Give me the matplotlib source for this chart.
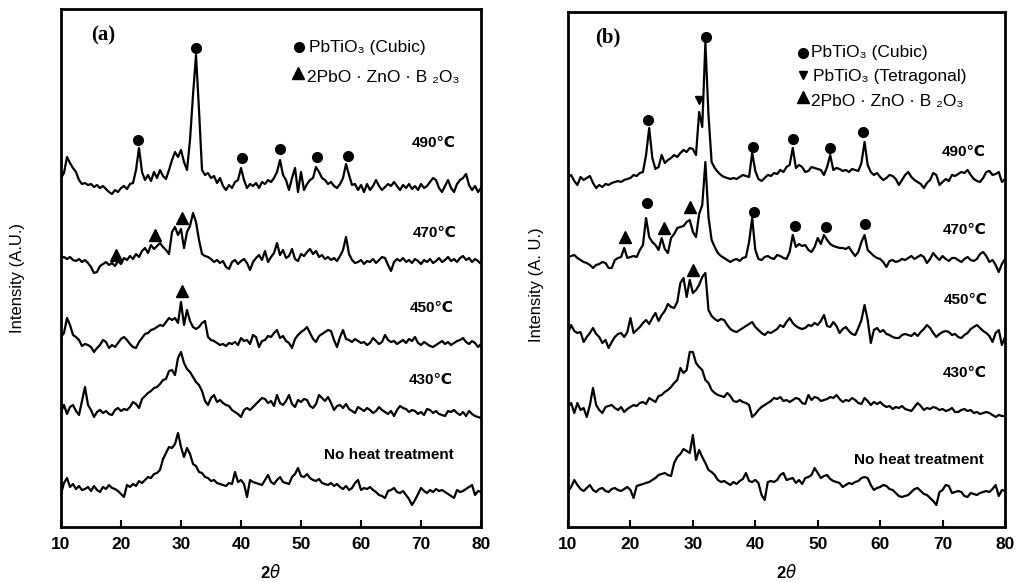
import numpy as np
import matplotlib
matplotlib.use('Agg')
import matplotlib.pyplot as plt

plt.rcParams['font.family'] = ['Liberation Sans', 'DejaVu Sans']

#==============================================================================
#%% DATA  (intensity, arbitrary units, 0.5 deg steps)
#==============================================================================
two_theta = np.arange(10, 80.01, 0.5)

labels = ['490\u2103', '470\u2103', '450\u2103', '430\u2103', 'No heat treatment']

a_490 = [9, 14, 30, 24, 19, 15, 7, 3, 4, 2,
         3, 0, 2, -1, 1, -2, -5, -7, -3, -5,
         -1, 1, -2, 3, 4, 17, 39, 15, 7, 12,
         6, 15, 9, 17, 11, 8, 17, 27, 35, 30,
         37, 25, 17, 47, 92, 132, 77, 17, 12, 14,
         9, 11, 4, 9, 1, -3, 2, -1, 5, 7,
         19, 7, -1, 3, 1, 4, -1, 5, 3, 7,
         5, 9, 15, 27, 12, 7, -3, 9, 19, -5,
         15, -3, 3, 7, 9, 20, 15, 9, 7, 3,
         5, 1, -1, 3, 9, 23, 12, 2, 3, -3,
         2, -5, 3, -3, 1, 7, 1, -3, 0, 3,
         1, 5, 1, -3, 2, -1, 3, -2, 1, -3,
         3, -1, 1, 5, 9, 7, -1, -5, 1, 7,
         -1, -5, 3, 7, 9, 13, 2, -3, 1, -5,
         -1]
a_470 = [4, 5, 3, 5, 2, 1, 3, 0, 2, -1,
         -5, -11, -10, -4, -2, 0, -3, -1, -4, 1,
         -2, 4, 2, 6, 3, 8, 5, 11, 14, 9,
         17, 13, 16, 19, 15, 12, 8, 30, 35, 27,
         33, 14, 30, 36, 49, 40, 22, 8, 6, 5,
         3, 0, 2, -1, 1, -5, -7, 0, 2, -2,
         1, 3, -1, -8, 0, 4, 7, 2, 11, 0,
         5, 9, 19, 7, 12, 4, 6, 13, 3, 1,
         8, 6, 10, 13, 8, 11, 5, 7, 3, 5,
         2, 4, 1, 6, 12, 25, 8, 2, -1, 0,
         2, -2, 1, 0, 3, -1, 2, 5, 4, -3,
         -9, 0, 3, 1, 4, 0, 2, -1, 3, 1,
         -2, 2, 0, 3, -1, 1, 4, 0, 2, 5,
         1, 3, 0, 4, 6, 2, 4, 0, 3, 1,
         -2]
a_450 = [8, 12, 27, 20, 10, 8, 5, -1, 1, 0,
         -2, -7, -3, 0, 5, 3, -3, 0, -2, 2,
         6, 8, 5, 1, -2, -3, 3, 7, 11, 12,
         15, 16, 18, 20, 19, 23, 27, 25, 27, 22,
         43, 20, 35, 24, 18, 16, 18, 22, 24, 8,
         5, 4, 2, 0, 1, -1, 2, 1, 3, 0,
         7, 4, 5, 1, 10, 8, -2, 4, 5, 9,
         8, 12, 15, 7, 9, 4, 2, -3, 6, 10,
         13, 15, 18, 12, 6, 3, 9, 11, 13, 15,
         14, 5, -2, 8, 15, 6, 5, 3, 6, 4,
         2, 3, 0, 2, 7, 4, 1, 3, 10, 5,
         3, 4, 1, 3, 5, 2, 6, 4, 8, 2,
         0, 3, 1, -1, -2, 0, 2, 4, 1, 3,
         0, 2, 4, 5, 7, 3, 1, 4, 2, -2,
         1]
a_430 = [1, 8, -1, 6, 8, 2, -2, 12, 26, 8,
         3, -4, 1, 3, 0, 2, -1, -2, 3, 5,
         2, 4, 3, 6, 11, 9, 5, 14, 17, 20,
         22, 25, 26, 29, 33, 34, 42, 43, 38, 55,
         61, 50, 44, 41, 36, 31, 28, 22, 12, 8,
         15, 18, 11, 13, 10, 8, 7, 3, 1, -1,
         -4, 3, 5, 3, 6, 9, 12, 15, 14, 10,
         12, 7, 18, 10, 8, 12, 18, 9, 6, 13,
         11, 14, 13, 7, 5, 9, 18, 15, 12, 16,
         10, 3, 7, 8, 5, 9, 4, 2, 0, 6,
         4, 2, 5, 3, 0, 2, 6, 3, 1, -1,
         2, -3, 3, 7, 5, 4, 1, 3, 2, -1,
         1, -2, 4, 3, 0, 2, -1, -2, -3, 2,
         1, 3, 0, -2, 1, -3, 2, -1, -3, -4,
         -5]
a_none = [-2, 9, 14, 5, 8, 3, 6, 2, 3, 5,
          1, 6, 2, 0, 5, 3, 7, 4, 3, 1,
          -2, -5, 7, 5, 8, 6, 11, 9, 12, 15,
          14, 18, 19, 22, 33, 39, 45, 44, 48, 59,
          45, 35, 44, 38, 28, 26, 20, 19, 15, 14,
          11, 12, 9, 8, 7, 6, 9, 8, 20, 10,
          12, 8, -5, 12, 10, 9, 8, 7, 12, 17,
          10, 8, 12, 15, 10, 9, 8, 15, 18, 24,
          16, 15, 18, 14, 12, 11, 13, 9, 8, 7,
          9, 6, 8, 5, 3, 6, 2, 4, 9, 12,
          2, 4, 3, 5, 2, 0, -3, -4, -6, 1,
          2, 4, 0, -1, 1, -3, -7, -13, -8, -2,
          4, 1, -1, 2, 0, 3, 1, 2, 0, -2,
          -4, -6, 2, 0, 1, 3, 5, 7, -3, 1,
          0]

b_490 = [8, 10, 4, 0, 8, 5, 7, 9, 2, -3,
         0, -2, 1, 0, 2, 3, 4, 3, 5, 6,
         7, 10, 9, 12, 13, 30, 57, 27, 16, 18,
         30, 22, 25, 27, 30, 28, 32, 35, 33, 37,
         36, 30, 73, 58, 142, 70, 23, 17, 13, 10,
         8, 7, 6, 7, 6, 8, 10, 9, 8, 32,
         14, 6, 4, 7, 10, 9, 12, 11, 15, 13,
         18, 20, 37, 17, 20, 18, 13, 14, 18, 17,
         16, 15, 10, 18, 30, 15, 17, 16, 14, 15,
         13, 16, 15, 14, 22, 43, 20, 13, 10, 12,
         8, 5, 7, 10, 9, 6, 0, 5, 10, 13,
         8, 5, 3, 1, -3, 2, 5, 12, 10, 0,
         3, 6, 4, 10, 9, 11, 13, 12, 15, 10,
         6, 4, 3, 7, 13, 14, 10, 11, 13, 3,
         6]
b_470 = [5, 6, 7, 4, 2, 0, -1, -3, -6, -3,
         -2, 0, -1, -6, -6, 2, 4, 5, 14, 4,
         5, 6, 5, 12, 17, 44, 25, 20, 17, 12,
         24, 13, 9, 24, 28, 34, 35, 36, 40, 42,
         30, 25, 48, 57, 100, 45, 22, 15, 9, 6,
         4, 2, 0, 2, 3, 1, 4, 5, 20, 44,
         12, 3, 2, 5, 6, 4, 3, 7, 6, 4,
         3, 10, 27, 15, 18, 16, 17, 12, 10, 15,
         24, 18, 27, 22, 18, 16, 15, 14, 14, 13,
         15, 10, 6, 10, 20, 27, 12, 9, 6, 4,
         3, 0, -5, 1, 2, 0, 1, 3, 2, 4,
         6, 3, 5, 7, 5, -1, 3, 9, 5, 2,
         6, 3, 1, 4, 4, 2, 0, 3, 5, 2,
         1, 3, 8, 10, 6, 0, 2, -3, -10, -2,
         3]
b_450 = [2, 10, 4, 2, 3, -7, -2, 2, 7, 1,
         -2, -8, -5, -13, -7, -2, 1, 2, -2, 3,
         17, 2, 5, 8, 12, 15, 11, 17, 22, 14,
         20, 24, 31, 28, 27, 33, 52, 57, 38, 55,
         42, 45, 50, 58, 62, 25, 19, 16, 14, 16,
         15, 10, 6, 4, 3, 5, 7, 9, 11, 13,
         8, 5, 2, 0, 3, 2, 4, 6, 10, 8,
         13, 17, 12, 9, 7, 6, 7, 10, 9, 12,
         10, 14, 20, 9, 8, 13, 9, 2, 6, 8,
         4, 1, 0, 7, 15, 30, 15, -8, 5, 7,
         3, 5, 1, 0, -2, -3, -3, 0, 1, 0,
         -1, 2, -1, 3, 6, 10, 7, 2, -2, 1,
         3, 4, 3, 0, 1, -2, -3, 0, 2, 6,
         8, 10, 7, 4, 2, -1, -7, 2, 5, -10,
         -2]
b_430 = [3, 7, -3, 7, 0, 2, -7, 5, 22, 5,
         0, -3, 3, 4, 5, 2, 0, 3, -2, 1,
         3, 5, 4, 7, 8, 6, 12, 10, 8, 14,
         15, 18, 20, 23, 27, 30, 42, 37, 40, 58,
         58, 47, 43, 40, 30, 27, 20, 17, 15, 14,
         13, 17, 14, 9, 8, 10, 8, 7, 5, -7,
         -4, 0, 3, 5, 7, 9, 12, 11, 13, 9,
         10, 8, 10, 12, 11, 7, 6, 15, 10, 13,
         12, 9, 10, 11, 13, 12, 15, 11, 8, 10,
         9, 12, 10, 7, 6, 12, 9, 5, 8, 6,
         8, 5, 3, 4, 1, 3, 2, 4, 1, 0,
         -1, 3, 7, 4, 0, 2, 1, 3, 2, 0,
         1, -1, 0, 2, -2, -2, 0, 1, -1, 0,
         -3, -2, -4, -3, -2, -3, -5, -7, -5, -6,
         -6]
b_none = [2, 6, 13, 8, 4, 2, 5, 8, 3, 1,
          4, 5, 2, 1, 4, 5, 3, 2, 4, 6,
          3, -5, 7, 8, 9, 10, 11, 13, 15, 18,
          19, 20, 18, 17, 30, 36, 39, 44, 42, 40,
          58, 33, 43, 36, 30, 23, 21, 18, 13, 11,
          12, 10, 8, 11, 9, 12, 14, 20, 12, 11,
          13, 10, -2, -7, 11, 12, 11, 13, 18, 20,
          13, 14, 15, 10, 13, 9, 15, 16, 18, 25,
          20, 15, 17, 18, 14, 12, 11, 10, 6, 8,
          10, 9, 11, 12, 15, 16, 15, 8, 3, 5,
          6, 8, 7, 4, 3, 0, -3, -4, -3, -2,
          1, 4, 5, 2, -1, -2, -5, -8, -12, 1,
          3, 8, 7, 0, 1, 2, 1, -3, -4, 0,
          -1, -2, 0, 1, 2, 1, 4, 8, -3, 3,
          2]

# stacking offsets of the curves
offsets_a = [340, 265, 182, 114, 35]
offsets_b = [342, 265, 192, 117, 34]

# phase markers: (trace index, 2theta, height above trace base)
cubic_a = [(0, 22.9, 47), (0, 32.5, 139), (0, 40.1, 29), (0, 46.5, 38), (0, 52.6, 30), (0, 57.8, 31)]
glass_a = [(1, 19.1, 7), (1, 25.6, 27), (1, 30.2, 44), (2, 30.2, 54)]

cubic_b = [(0, 22.8, 65), (0, 32.1, 148), (0, 39.6, 38), (0, 46.1, 46), (0, 52.0, 37), (0, 57.3, 53),
           (1, 22.7, 59), (1, 39.8, 50), (1, 46.4, 36), (1, 51.4, 35), (1, 57.5, 38)]
tetra_b = [(0, 31.0, 85)]
glass_b = [(1, 19.1, 25), (1, 25.3, 34), (1, 29.6, 55), (2, 30.0, 65)]

#==============================================================================
#%% PLOT
#==============================================================================
fig = plt.figure(figsize=(10.2, 5.82), dpi=100)
ax_a = fig.add_axes([0.0598, 0.0945, 0.4118, 0.8900])
ax_b = fig.add_axes([0.5569, 0.0945, 0.4284, 0.8849])


def drawPanel(ax, traces, offsets, ymax, ylabel):
    for vals, off in zip(traces, offsets):
        ax.plot(two_theta, np.array(vals) + off, color='black', lw=1.6)
    ax.set_xlim(10, 80)
    ax.set_ylim(0, ymax)
    ax.set_xticks(np.arange(10, 81, 10))
    ax.set_yticks([])
    ax.tick_params(axis='x', direction='in', length=5, width=1.5, pad=7,
                   labelsize=12.5)
    for lab in ax.get_xticklabels():
        lab.set_fontweight('bold')
    for sp in ax.spines.values():
        sp.set_linewidth(2)
    ax.set_xlabel('2$\\theta$', fontsize=12, fontweight='bold', labelpad=8)
    ax.set_ylabel(ylabel, fontsize=12)


def drawMarkers(ax, marks, offsets, marker, size):
    for idx, tt, h in marks:
        ax.plot(tt, offsets[idx] + h, marker=marker, color='black',
                markersize=size, linestyle='none')


drawPanel(ax_a, [a_490, a_470, a_450, a_430, a_none], offsets_a, 518,
          'Intensity (A.U.)')
drawPanel(ax_b, [b_490, b_470, b_450, b_430, b_none], offsets_b, 515,
          'Intensity (A. U.)')
ax_a.yaxis.set_label_coords(-0.085, 0.48)
ax_b.yaxis.set_label_coords(-0.055, 0.47)

drawMarkers(ax_a, cubic_a, offsets_a, 'o', 7)
drawMarkers(ax_a, glass_a, offsets_a, '^', 8)
drawMarkers(ax_b, cubic_b, offsets_b, 'o', 7)
drawMarkers(ax_b, tetra_b, offsets_b, 'v', 6)
drawMarkers(ax_b, glass_b, offsets_b, '^', 8)

# curve labels
pos_a = [(72.2, 384), (72.2, 294), (71.8, 219), (71.7, 147), (64.6, 72)]
pos_b = [(73.4, 375), (73.6, 297), (73.7, 227), (73.6, 154), (66.2, 67)]
for lab, (x, y) in zip(labels, pos_a):
    ax_a.text(x, y, lab, ha='center', va='center', fontsize=11, fontweight='bold')
for lab, (x, y) in zip(labels, pos_b):
    ax_b.text(x, y, lab, ha='center', va='center', fontsize=11, fontweight='bold')

# panel tags
ax_a.text(17.0, 492, '(a)', ha='center', va='center', fontsize=15,
          fontweight='bold', family=['Liberation Serif', 'DejaVu Serif'])
ax_b.text(16.4, 490, '(b)', ha='center', va='center', fontsize=15,
          fontweight='bold', family=['Liberation Serif', 'DejaVu Serif'])

# legends
ax_a.plot(49.7, 480, 'o', color='black', markersize=7)
ax_a.text(51.3, 480, 'PbTiO\u2083 (Cubic)', va='center', fontsize=12.5)
ax_a.plot(49.5, 454, '^', color='black', markersize=8)
ax_a.text(51.0, 450, '2PbO \u00b7 ZnO \u00b7 B \u2082O\u2083', va='center', fontsize=12.5)

ax_b.plot(47.6, 474, 'o', color='black', markersize=7)
ax_b.text(48.9, 474, 'PbTiO\u2083 (Cubic)', va='center', fontsize=12.5)
ax_b.plot(47.6, 452, 'v', color='black', markersize=6)
ax_b.text(49.3, 450, 'PbTiO\u2083 (Tetragonal)', va='center', fontsize=12.5)
ax_b.plot(47.6, 430, '^', color='black', markersize=8)
ax_b.text(48.9, 425, '2PbO \u00b7 ZnO \u00b7 B \u2082O\u2083', va='center', fontsize=12.5)

fig.savefig('out.png', dpi=100)
